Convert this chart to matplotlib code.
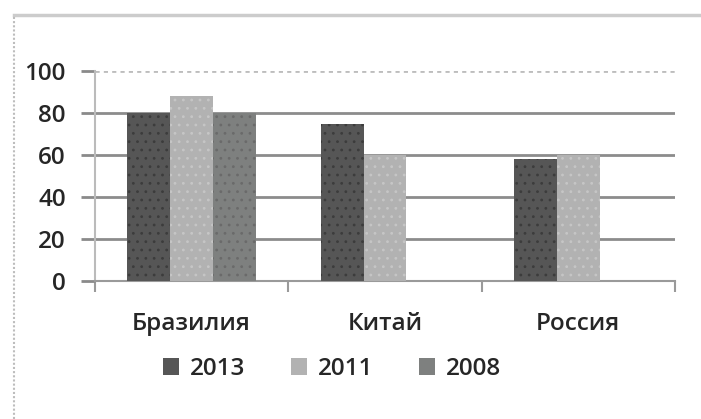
import matplotlib
matplotlib.use("Agg")
import matplotlib.pyplot as plt
from matplotlib.lines import Line2D
from matplotlib.patches import Patch
import numpy as np

countries = ["Бразилия", "Китай", "Россия"]
years = ["2013", "2011", "2008"]
values_2013 = [80, 75, 58]
values_2011 = [88, 60, 60]
values_2008 = [80, 0, 0]
y_ticks = [0, 20, 40, 60, 80, 100]

series = [values_2013, values_2011, values_2008]
colors = ["#565656", "#b2b2b2", "#7e807f"]
dot_colors = ["#3c3c3c", "#c6c6c6", "#6a6a6a"]

plt.rcParams['font.family'] = ['Open Sans', 'DejaVu Sans']
plt.rcParams['font.weight'] = 'semibold'
plt.rcParams['hatch.linewidth'] = 0.8
FS = 17.5
TXT = "#262626"

fig = plt.figure(figsize=(7.01, 4.19), dpi=100)
ax = fig.add_axes([95/701, 1-281/419, 580/701, 210/419])

x = np.arange(len(countries))
w = 0.222
for i, (vals, c, dc) in enumerate(zip(series, colors, dot_colors)):
    pos = x + (i - 1) * w
    ax.bar(pos, vals, width=w, color=c, edgecolor='none', zorder=3)
    # dotted texture on top of the fill
    ax.bar(pos, vals, width=w, facecolor='none', edgecolor=dc, linewidth=0,
           hatch='..', zorder=4)

ax.set_xlim(-0.5, 2.5)
ax.set_ylim(0, 100)
ax.set_yticks(y_ticks)
ax.set_yticklabels([str(t) for t in y_ticks], fontsize=FS, color=TXT)
ax.tick_params(axis='y', length=10, color="#8a8a8a", width=2, pad=11)

for t in y_ticks[1:-1]:
    ax.axhline(t, color="#8c8c8c", lw=2, zorder=1)
ax.axhline(100, color="#bdbdbd", lw=2, ls=(0, (1.5, 1.5)), zorder=1)

ax.set_xticks(x)
ax.set_xticklabels(countries, fontsize=FS, color=TXT)
ax.tick_params(axis='x', length=0, pad=22)
ax.set_xticks([-0.5, 0.5, 1.5, 2.5], minor=True)
ax.tick_params(axis='x', which='minor', length=8, width=1.5, color="#9a9a9a")

for s in ['top', 'right']:
    ax.spines[s].set_visible(False)
ax.spines['left'].set_color("#bbbbbb")
ax.spines['left'].set_linewidth(1.5)
ax.spines['bottom'].set_color("#9a9a9a")
ax.spines['bottom'].set_linewidth(1.5)

handles = [Patch(facecolor=c, edgecolor='none') for c in colors]
fig.legend(handles, years, loc='center', bbox_to_anchor=(332/701, 1-369/419),
           ncol=3, frameon=False, fontsize=FS, handlelength=0.65, handleheight=0.65,
           handletextpad=0.45, columnspacing=1.9, labelcolor=TXT)

# outer chart frame
fig.add_artist(Line2D([14/701, 1], [1-15/419, 1-15/419], color="#cccccc", lw=2.5,
                      transform=fig.transFigure))
fig.add_artist(Line2D([14/701, 14/701], [0, 1-15/419], color="#bdbdbd", lw=1.5,
                      ls=(0, (1, 1)), transform=fig.transFigure))

fig.savefig("out.png", dpi=100)
